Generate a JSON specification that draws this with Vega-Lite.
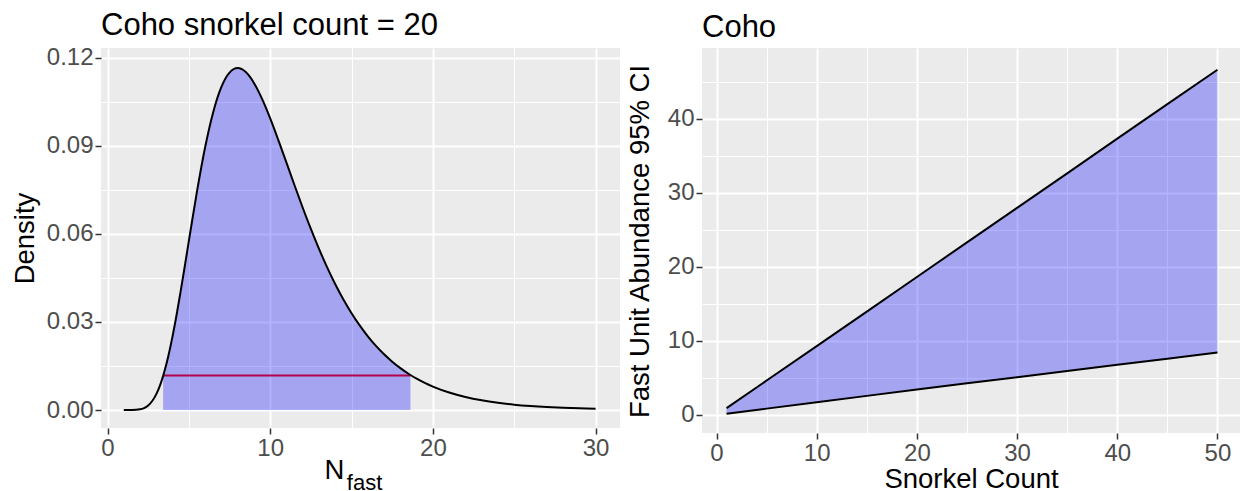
{
  "$schema": "https://vega.github.io/schema/vega-lite/v6.json",
  "background": "white",
  "padding": {"left": 11, "top": 9, "right": 0, "bottom": 0},
  "spacing": 6,
  "config": {
    "view": {"fill": "#EBEBEB", "stroke": null},
    "font": "Liberation Sans",
    "axis": {
      "domain": false,
      "tickColor": "#333333",
      "tickWidth": 1.5,
      "tickSize": 6,
      "labelColor": "#4D4D4D",
      "labelFontSize": 24,
      "labelPadding": 2,
      "labelFont": "Liberation Sans",
      "titleFont": "Liberation Sans",
      "titleFontSize": 27.5,
      "titleFontWeight": "normal",
      "titleColor": "black",
      "gridColor": "white"
    },
    "title": {"fontSize": 31, "fontWeight": "normal", "anchor": "start", "frame": "group", "color": "black", "font": "Liberation Sans", "baseline": "alphabetic", "offset": 4}
  },
  "datasets": {
    "curve": [
      {"x": 1, "d": 0}, {"x": 1.5, "d": 0.00002}, {"x": 2, "d": 0.00026}, {"x": 2.25, "d": 0.00069},
      {"x": 2.5, "d": 0.00156}, {"x": 2.75, "d": 0.00308}, {"x": 3, "d": 0.00543}, {"x": 3.25, "d": 0.00878},
      {"x": 3.42, "d": 0.01166}, {"x": 3.5, "d": 0.0132}, {"x": 3.75, "d": 0.0187}, {"x": 4, "d": 0.0252},
      {"x": 4.25, "d": 0.03256}, {"x": 4.5, "d": 0.04057}, {"x": 4.75, "d": 0.04901}, {"x": 5, "d": 0.05763},
      {"x": 5.5, "d": 0.07448}, {"x": 6, "d": 0.0895}, {"x": 6.5, "d": 0.10154}, {"x": 7, "d": 0.11005},
      {"x": 7.5, "d": 0.11494}, {"x": 8, "d": 0.11647}, {"x": 8.5, "d": 0.1151}, {"x": 9, "d": 0.1114},
      {"x": 9.5, "d": 0.10597}, {"x": 10, "d": 0.09933}, {"x": 10.5, "d": 0.09196}, {"x": 11, "d": 0.08424},
      {"x": 11.5, "d": 0.07648}, {"x": 12, "d": 0.06891}, {"x": 12.5, "d": 0.06167}, {"x": 13, "d": 0.05488},
      {"x": 13.5, "d": 0.04861}, {"x": 14, "d": 0.04287}, {"x": 14.5, "d": 0.03767}, {"x": 15, "d": 0.033},
      {"x": 15.5, "d": 0.02884}, {"x": 16, "d": 0.02514}, {"x": 16.5, "d": 0.02188}, {"x": 17, "d": 0.01901},
      {"x": 17.5, "d": 0.01649}, {"x": 18, "d": 0.01429}, {"x": 18.5, "d": 0.01237}, {"x": 18.62, "d": 0.01194},
      {"x": 19, "d": 0.0107}, {"x": 19.5, "d": 0.00926}, {"x": 20, "d": 0.008}, {"x": 21, "d": 0.00597},
      {"x": 22, "d": 0.00445}, {"x": 23, "d": 0.00332}, {"x": 24, "d": 0.00248}, {"x": 25, "d": 0.00185},
      {"x": 26, "d": 0.00139}, {"x": 27, "d": 0.00104}, {"x": 28, "d": 0.00078}, {"x": 29, "d": 0.00059},
      {"x": 30, "d": 0.00044}
    ],
    "hpd": [{"lo": 3.42, "hi": 18.62, "level": 0.0118}],
    "subscript": [{"label": "fast"}],
    "ci": [
      {"count": 1, "lo": 0.17, "hi": 0.93}, {"count": 5, "lo": 0.86, "hi": 4.65},
      {"count": 10, "lo": 1.72, "hi": 9.3}, {"count": 15, "lo": 2.58, "hi": 13.95},
      {"count": 20, "lo": 3.44, "hi": 18.62}, {"count": 25, "lo": 4.3, "hi": 23.3},
      {"count": 30, "lo": 5.1, "hi": 27.95}, {"count": 35, "lo": 5.95, "hi": 32.6},
      {"count": 40, "lo": 6.78, "hi": 37.3}, {"count": 45, "lo": 7.6, "hi": 41.95},
      {"count": 50, "lo": 8.42, "hi": 46.6}
    ]
  },
  "hconcat": [
    {
      "width": 519,
      "height": 380,
      "title": {"text": "Coho snorkel count = 20"},
      "layer": [
        {
          "data": {"name": "hpd"},
          "mark": {"type": "rule", "color": "#FF0000", "strokeWidth": 2},
          "encoding": {
            "x": {
              "field": "lo", "type": "quantitative",
              "scale": {"domain": [-0.4, 31.5], "nice": false, "zero": false},
              "axis": {
                "values": [0, 5, 10, 15, 20, 25, 30],
                "labelExpr": "datum.value % 10 === 0 ? datum.label : ''",
                "tickOpacity": {"condition": {"test": "datum.value % 10 === 0", "value": 1}, "value": 0},
                "gridWidth": {"condition": {"test": "datum.value % 10 === 0", "value": 2}, "value": 1},
                "title": "N",
                "titleX": 233,
                "titleY": 50,
                "titleAlign": "center",
                "titleBaseline": "alphabetic"
              }
            },
            "x2": {"field": "hi"},
            "y": {
              "field": "level", "type": "quantitative",
              "scale": {"domain": [-0.0061, 0.1233], "nice": false, "zero": false},
              "axis": {
                "values": [0, 0.015, 0.03, 0.045, 0.06, 0.075, 0.09, 0.105, 0.12],
                "labelExpr": "abs(datum.value*100/3 - round(datum.value*100/3)) < 0.01 ? format(datum.value, '.2f') : ''",
                "tickOpacity": {"condition": {"test": "abs(datum.value*100/3 - round(datum.value*100/3)) < 0.01", "value": 1}, "value": 0},
                "gridWidth": {"condition": {"test": "abs(datum.value*100/3 - round(datum.value*100/3)) < 0.01", "value": 2}, "value": 1},
                "title": "Density",
                "titleX": -67.5,
                "titleY": 190,
                "titleAlign": "center",
                "titleBaseline": "alphabetic"
              }
            }
          }
        },
        {
          "data": {"name": "curve"},
          "transform": [{"filter": "datum.x >= 3.42 && datum.x <= 18.62"}],
          "mark": {"type": "area", "color": "blue", "opacity": 0.3, "interpolate": "monotone"},
          "encoding": {
            "x": {"field": "x", "type": "quantitative"},
            "y": {"field": "d", "type": "quantitative"},
            "y2": {"datum": 0}
          }
        },
        {
          "data": {"name": "curve"},
          "mark": {"type": "line", "color": "black", "strokeWidth": 2, "interpolate": "monotone"},
          "encoding": {
            "x": {"field": "x", "type": "quantitative"},
            "y": {"field": "d", "type": "quantitative"}
          }
        },
        {
          "data": {"name": "subscript"},
          "mark": {"type": "text", "clip": false, "fontSize": 22, "align": "left", "baseline": "alphabetic", "color": "black", "font": "Liberation Sans", "dy": 80, "dx": -1},
          "encoding": {
            "x": {"datum": 14.77},
            "y": {"datum": 0},
            "text": {"field": "label"}
          }
        }
      ]
    },
    {
      "width": 538,
      "height": 385,
      "title": {"text": "Coho"},
      "data": {"name": "ci"},
      "encoding": {
        "x": {
          "field": "count", "type": "quantitative",
          "scale": {"domain": [-1.45, 52.25], "nice": false, "zero": false},
          "axis": {
            "values": [0, 5, 10, 15, 20, 25, 30, 35, 40, 45, 50],
            "labelExpr": "datum.value % 10 === 0 ? datum.label : ''",
            "tickOpacity": {"condition": {"test": "datum.value % 10 === 0", "value": 1}, "value": 0},
            "gridWidth": {"condition": {"test": "datum.value % 10 === 0", "value": 2}, "value": 1},
            "title": "Snorkel Count",
            "titleY": 54,
            "titleBaseline": "alphabetic"
          }
        }
      },
      "layer": [
        {
          "mark": {"type": "area", "color": "blue", "opacity": 0.3},
          "encoding": {
            "y": {
              "field": "lo", "type": "quantitative",
              "scale": {"domain": [-2.43, 49.53], "nice": false, "zero": false},
              "axis": {
                "values": [0, 5, 10, 15, 20, 25, 30, 35, 40, 45],
                "labelExpr": "datum.value % 10 === 0 ? datum.label : ''",
                "tickOpacity": {"condition": {"test": "datum.value % 10 === 0", "value": 1}, "value": 0},
                "gridWidth": {"condition": {"test": "datum.value % 10 === 0", "value": 2}, "value": 1},
                "title": "Fast Unit Abundance 95% CI",
                "titleX": -54,
                "titleY": 193,
                "titleAlign": "center",
                "titleBaseline": "alphabetic"
              }
            },
            "y2": {"field": "hi"}
          }
        },
        {
          "mark": {"type": "line", "color": "black", "strokeWidth": 2},
          "encoding": {"y": {"field": "hi", "type": "quantitative"}}
        },
        {
          "mark": {"type": "line", "color": "black", "strokeWidth": 2},
          "encoding": {"y": {"field": "lo", "type": "quantitative"}}
        }
      ]
    }
  ]
}
